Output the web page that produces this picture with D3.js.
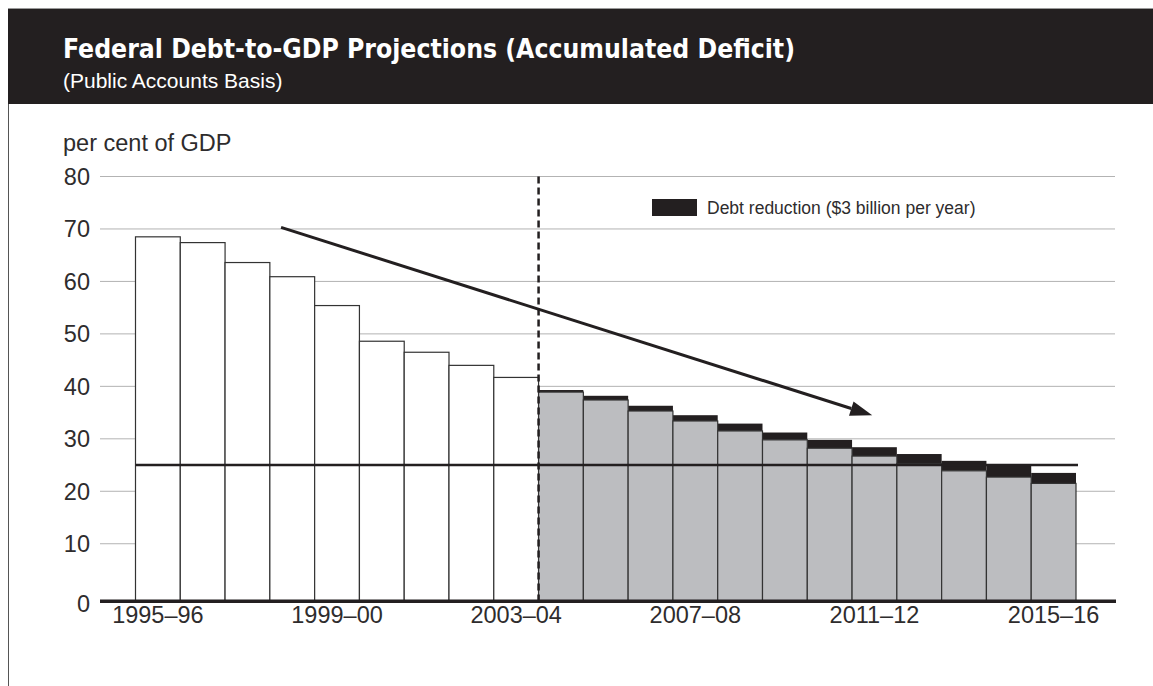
<!DOCTYPE html>
<html>
<head>
<meta charset="utf-8">
<script src="https://cdn.jsdelivr.net/npm/d3@7"></script>
<style>
  html, body { margin: 0; padding: 0; background: #fff; }
  svg { display: block; }
  text { font-family: "Liberation Sans", Arial, sans-serif; }
</style>
</head>
<body>
<svg id="chart" width="1153" height="686"></svg>
<script>
// Fiscal years shown on the category axis
const years = [
  "1995–96", "1996–97", "1997–98", "1998–99", "1999–00", "2000–01", "2001–02",
  "2002–03", "2003–04", "2004–05", "2005–06", "2006–07", "2007–08", "2008–09",
  "2009–10", "2010–11", "2011–12", "2012–13", "2013–14", "2014–15", "2015–16"
];
// Actual debt-to-GDP ratio, 1995–96 to 2003–04 (per cent)
const actualDebt = [68.5, 67.4, 63.6, 60.9, 55.4, 48.6, 46.5, 44.0, 41.7];
// Projected ratio with $3 billion yearly debt reduction, 2004–05 to 2015–16
const projectedDebt = [38.9, 37.4, 35.3, 33.4, 31.5, 29.8, 28.2, 26.7, 25.3, 23.9, 22.7, 21.5];
// Extra ratio that the yearly debt reduction removes (stacked on top)
const debtReduction = [0.4, 0.8, 1.0, 1.1, 1.4, 1.4, 1.6, 1.7, 1.8, 1.9, 2.2, 2.0];
// Medium-term target ratio
const targetRatio = 25;
const yTicks = [0, 10, 20, 30, 40, 50, 60, 70, 80];
const xTickLabels = ["1995–96", "1999–00", "2003–04", "2007–08", "2011–12", "2015–16"];
// Trend arrow, in (bar position, per cent) units
const trendArrow = [{ pos: 3.25, v: 70.3 }, { pos: 16.45, v: 34.5 }];
const legendLabel = "Debt reduction ($3 billion per year)";

const svg = d3.select("#chart");
const W = 1153, H = 686;
const ink = "#231f20";
const labelInk = "#2e2c2d";

// Header band
svg.append("rect").attr("x", 8).attr("y", 8).attr("width", W - 8).attr("height", 96).attr("fill", ink);
svg.append("line").attr("x1", 8).attr("x2", W).attr("y1", 8.5).attr("y2", 8.5)
  .attr("stroke", "#9a9a9a").attr("stroke-width", 1);
svg.append("line").attr("x1", 8.5).attr("x2", 8.5).attr("y1", 104).attr("y2", H)
  .attr("stroke", "#555").attr("stroke-width", 1);

svg.append("text").attr("x", 63).attr("y", 58)
  .attr("fill", "#fff")
  .style("font-family", '"Liberation Sans Narrow", "DejaVu Sans Condensed", "Liberation Sans", sans-serif')
  .style("font-weight", "bold").style("font-size", "27px")
  .attr("textLength", 732).attr("lengthAdjust", "spacingAndGlyphs")
  .text("Federal Debt-to-GDP Projections (Accumulated Deficit)");
svg.append("text").attr("x", 63).attr("y", 88)
  .attr("fill", "#fff").style("font-size", "21px")
  .text("(Public Accounts Basis)");

// Scales
const x = d3.scaleBand().domain(years).range([135.5, 1076]).paddingInner(0).paddingOuter(0);
const xPos = d3.scaleLinear().domain([0, years.length]).range([135.5, 1076]);
const y = d3.scaleLinear().domain([0, 80]).range([596.2, 176.5]);
const baseY = y(0) + 5;         // heavy baseline sits just under zero
const gridX0 = 100, gridX1 = 1115;

// Y-axis caption
svg.append("text").attr("x", 63).attr("y", 151)
  .attr("fill", labelInk).style("font-size", "23.5px")
  .text("per cent of GDP");

// Gridlines (zero is replaced by the heavy baseline)
svg.append("g").selectAll("line").data(yTicks.filter(d => d > 0)).join("line")
  .attr("x1", gridX0).attr("x2", gridX1)
  .attr("y1", d => y(d)).attr("y2", d => y(d))
  .attr("stroke", "#b3b3b3").attr("stroke-width", 1);

// Y tick labels
svg.append("g").selectAll("text").data(yTicks).join("text")
  .attr("x", 90).attr("y", d => d === 0 ? baseY + 2 : y(d))
  .attr("dy", "0.36em").attr("text-anchor", "end")
  .attr("fill", labelInk).style("font-size", "23.5px")
  .text(d => d);

// Historical bars
const histYears = years.slice(0, actualDebt.length);
svg.append("g").selectAll("rect").data(actualDebt).join("rect")
  .attr("x", (d, i) => x(histYears[i]))
  .attr("y", d => y(d))
  .attr("width", x.bandwidth())
  .attr("height", d => baseY - y(d))
  .attr("fill", "#fff").attr("stroke", "#333").attr("stroke-width", 1.2);

// Projected bars with the debt-reduction slice on top
const projYears = years.slice(actualDebt.length);
const proj = projectedDebt.map((v, i) => ({ year: projYears[i], base: v, top: v + debtReduction[i] }));
const pg = svg.append("g");
pg.selectAll("rect.red").data(proj).join("rect").attr("class", "red")
  .attr("x", d => x(d.year)).attr("y", d => y(d.top))
  .attr("width", x.bandwidth()).attr("height", d => y(d.base) - y(d.top))
  .attr("fill", ink);
pg.selectAll("rect.base").data(proj).join("rect").attr("class", "base")
  .attr("x", d => x(d.year)).attr("y", d => y(d.base))
  .attr("width", x.bandwidth()).attr("height", d => baseY - y(d.base))
  .attr("fill", "#bcbdc0").attr("stroke", "#333").attr("stroke-width", 1.2);

// Target line
svg.append("line")
  .attr("x1", x(years[0])).attr("x2", x(years[years.length - 1]) + x.bandwidth() + 2)
  .attr("y1", y(targetRatio)).attr("y2", y(targetRatio))
  .attr("stroke", ink).attr("stroke-width", 2.5);

// Divider between actual and projected years
const divX = x(projYears[0]);
svg.append("line").attr("x1", divX).attr("x2", divX)
  .attr("y1", y(80)).attr("y2", baseY)
  .attr("stroke", ink).attr("stroke-width", 2.5).attr("stroke-dasharray", "7,4");

// Heavy baseline
svg.append("line").attr("x1", gridX0).attr("x2", gridX1 + 1)
  .attr("y1", baseY).attr("y2", baseY)
  .attr("stroke", ink).attr("stroke-width", 3.5);

// X tick labels
svg.append("g").selectAll("text").data(xTickLabels).join("text")
  .attr("x", d => x(d) + x.bandwidth() / 2).attr("y", 623)
  .attr("text-anchor", "middle").attr("fill", labelInk).style("font-size", "23.5px")
  .text(d => d);

// Trend arrow
const [a0, a1] = trendArrow.map(p => [xPos(p.pos), y(p.v)]);
const ang = Math.atan2(a1[1] - a0[1], a1[0] - a0[0]);
const headLen = 22, headHalf = 7.5;
const bx = a1[0] - headLen * Math.cos(ang), by = a1[1] - headLen * Math.sin(ang);
svg.append("line").attr("x1", a0[0]).attr("y1", a0[1]).attr("x2", bx).attr("y2", by)
  .attr("stroke", ink).attr("stroke-width", 3);
svg.append("path")
  .attr("d", d3.line()([
    a1,
    [bx + headHalf * Math.sin(ang), by - headHalf * Math.cos(ang)],
    [bx - headHalf * Math.sin(ang), by + headHalf * Math.cos(ang)]
  ]) + "Z")
  .attr("fill", ink);

// Legend
svg.append("rect").attr("x", 652).attr("y", 199).attr("width", 45).attr("height", 17).attr("fill", ink);
svg.append("text").attr("x", 707).attr("y", 214)
  .attr("fill", labelInk).style("font-size", "17.5px")
  .text(legendLabel);
</script>
</body>
</html>
